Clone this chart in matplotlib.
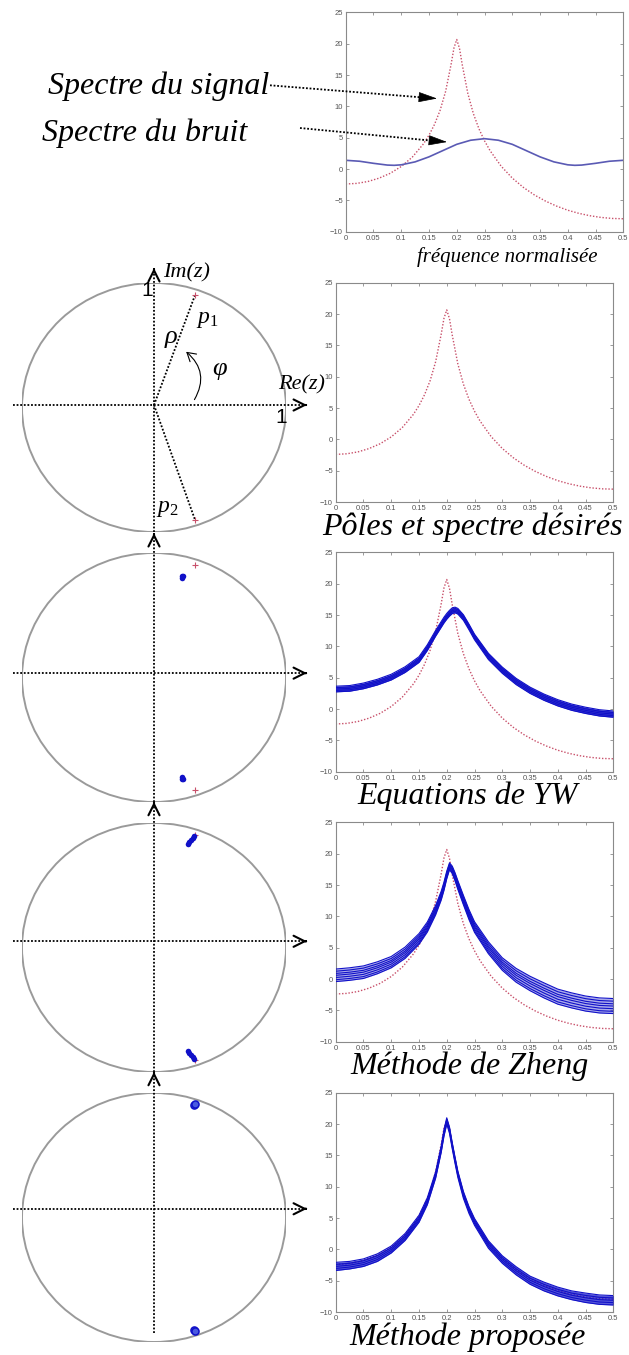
import numpy as np
import matplotlib.pyplot as plt
from matplotlib.patches import Ellipse, FancyArrowPatch

plt.rcParams['mathtext.fontset'] = 'custom'
plt.rcParams['mathtext.it'] = 'Liberation Serif:italic'
plt.rcParams['mathtext.rm'] = 'Liberation Serif'

W, H = 629, 1355

# spectre désiré (AR(2), dB)
SIG_F = [0, 0.02, 0.04, 0.06, 0.08, 0.1, 0.12, 0.14, 0.15, 0.16, 0.17, 0.18,
         0.19, 0.195, 0.2, 0.205, 0.21, 0.22, 0.23, 0.24, 0.25, 0.26, 0.28,
         0.3, 0.32, 0.34, 0.36, 0.38, 0.4, 0.42, 0.44, 0.46, 0.48, 0.5]
SIG_DB = [-2.38, -2.28, -1.98, -1.45, -0.68, 0.41, 1.91, 4.01, 5.40, 7.13,
          9.36, 12.40, 16.78, 19.32, 20.66, 19.23, 16.60, 12.05, 8.83, 6.42,
          4.51, 2.94, 0.46, -1.43, -2.92, -4.13, -5.11, -5.91, -6.56, -7.06,
          -7.44, -7.71, -7.87, -7.92]

# spectre du bruit
NOISE_F = [0, 0.025, 0.05, 0.075, 0.0875, 0.1, 0.125, 0.15, 0.175, 0.2, 0.225,
           0.25, 0.275, 0.3, 0.325, 0.35, 0.375, 0.4, 0.4125, 0.425, 0.45,
           0.475, 0.5]
NOISE_DB = [1.4, 1.25, 0.92, 0.64, 0.6, 0.68, 1.15, 1.95, 2.95, 3.95, 4.6,
            4.85, 4.6, 3.95, 2.95, 1.95, 1.15, 0.68, 0.6, 0.64, 0.92, 1.25, 1.4]

# spectres estimés (centre du faisceau + demi-largeur)
BAND_F = [0, 0.025, 0.05, 0.075, 0.1, 0.125, 0.15, 0.165, 0.18, 0.19, 0.195,
          0.2, 0.205, 0.21, 0.215, 0.22, 0.23, 0.24, 0.25, 0.275, 0.3, 0.325,
          0.35, 0.375, 0.4, 0.425, 0.45, 0.475, 0.5]
YW_MID = [3.2, 3.3, 3.7, 4.3, 5.1, 6.3, 7.9, 9.8, 12.1, 13.5, 14.2, 14.8,
          15.3, 15.7, 15.8, 15.6, 14.6, 13.1, 11.5, 8.4, 6.2, 4.4, 3.0, 1.9,
          1.0, 0.3, -0.2, -0.6, -0.8]
YW_SPREAD = [0.45] * 19 + [0.5] * 10
ZHENG_MID = [0.6, 0.8, 1.1, 1.8, 2.7, 4.2, 6.4, 8.3, 11.0, 13.3, 14.8, 16.6,
             18.0, 17.4, 16.3, 15.0, 12.6, 10.3, 8.3, 5.0, 2.4, 0.6, -0.7,
             -1.8, -2.8, -3.4, -3.9, -4.2, -4.3]
ZHENG_SPREAD = [1.0, 1.0, 1.0, 0.95, 0.9, 0.9, 0.85, 0.8, 0.75, 0.7, 0.65,
                0.6, 0.55, 0.6, 0.65, 0.7, 0.75, 0.8, 0.85, 0.95, 1.0, 1.1,
                1.15, 1.2, 1.2, 1.2, 1.2, 1.2, 1.2]
PROP_MID = [-2.7, -2.5, -2.1, -1.3, 0.0, 2.0, 4.9, 7.7, 11.9, 16.0, 18.6,
            20.5, 19.0, 16.5, 14.2, 12.0, 8.7, 6.3, 4.4, 0.8, -1.6, -3.4,
            -4.9, -5.9, -6.7, -7.3, -7.7, -8.0, -8.1]
PROP_SPREAD = [0.65, 0.6, 0.6, 0.6, 0.55, 0.55, 0.55, 0.55, 0.5, 0.5, 0.5,
               0.5, 0.5, 0.5, 0.5, 0.5, 0.55, 0.55, 0.55, 0.6, 0.6, 0.65,
               0.65, 0.7, 0.7, 0.7, 0.75, 0.75, 0.75]

# pôles (demi-plan supérieur, les conjugués sont tracés en miroir)
DESIRED_RE, DESIRED_IM = 0.31, 0.90
YW_RE = [0.210, 0.222, 0.215]
YW_IM = [0.800, 0.812, 0.818]
ZHENG_RE = [0.255, 0.268, 0.282, 0.296, 0.305]
ZHENG_IM = [0.835, 0.850, 0.866, 0.882, 0.895]
PROP_RE = [0.300, 0.308]
PROP_IM = [0.905, 0.912]

XTICKS = [0, 0.05, 0.1, 0.15, 0.2, 0.25, 0.3, 0.35, 0.4, 0.45, 0.5]
XTICK_LABELS = ['0', '0.05', '0.1', '0.15', '0.2', '0.25', '0.3', '0.35',
                '0.4', '0.45', '0.5']
YTICKS = [-10, -5, 0, 5, 10, 15, 20, 25]

RED = '#c8506a'
BAND_BLUE = '#1010c8'
SERIF_IT = dict(family='Liberation Serif', style='italic')


def box(left, top, width, height):
    return [left / W, 1 - (top + height) / H, width / W, height / H]


fig = plt.figure(figsize=(W / 100, H / 100), dpi=100, facecolor='white')


def spectrum_axes(left, top):
    ax = fig.add_axes(box(left, top, 277.6, 219.5))
    ax.set_xlim(0, 0.5)
    ax.set_ylim(-10, 25)
    ax.set_xticks(XTICKS)
    ax.set_xticklabels(XTICK_LABELS)
    ax.set_yticks(YTICKS)
    ax.tick_params(direction='in', length=2.5, width=0.6, color='#8a8a8a',
                   labelsize=5.5, labelcolor='#555555', pad=2,
                   top=True, right=True)
    for lab in ax.get_xticklabels() + ax.get_yticklabels():
        lab.set_family('Liberation Sans')
    for s in ax.spines.values():
        s.set_color('#8a8a8a')
        s.set_linewidth(0.8)
    return ax


def draw_band(ax, mid, spread, offsets, fill_alpha):
    mid = np.asarray(mid)
    spread = np.asarray(spread)
    ax.fill_between(BAND_F, mid - spread, mid + spread, color=BAND_BLUE,
                    alpha=fill_alpha, lw=0, zorder=3)
    for k in offsets:
        ax.plot(BAND_F, mid + k * spread, color=BAND_BLUE, lw=0.8, zorder=4)


def desired(ax):
    ax.plot(SIG_F, SIG_DB, color=RED, lw=1.0, ls=(0, (1, 1.3)), zorder=2)


# --- spectres ---
ax0 = spectrum_axes(345.7, 12.3)
desired(ax0)
ax0.plot(NOISE_F, NOISE_DB, color='#5a5ab4', lw=1.2)

ax1 = spectrum_axes(335.7, 282.7)
desired(ax1)

ax2 = spectrum_axes(335.7, 552.3)
desired(ax2)
draw_band(ax2, YW_MID, YW_SPREAD, [-1, -0.5, 0, 0.5, 1], 0.85)

ax3 = spectrum_axes(335.7, 822.3)
desired(ax3)
draw_band(ax3, ZHENG_MID, ZHENG_SPREAD, [-1, -0.7, -0.35, 0, 0.3, 0.65, 1], 0.35)

ax4 = spectrum_axes(335.7, 1092.7)
desired(ax4)
draw_band(ax4, PROP_MID, PROP_SPREAD, [-1, -0.5, 0, 0.5, 1], 0.7)

# --- cercles unité ---
CIRCLE_CY = [407.5, 677.5, 947.5, 1217.5]
AXIS_SHIFT = [0.02, 0.035, 0.05, 0.07]
VERT_TOP = [1.12, 1.16, 1.17, 1.17]
VERT_BOTTOM = [-1.0, -1.0, -1.0, -0.93]
DOT = (0, (1, 1))
chevron = dict(arrowstyle='->', lw=1.5, color='k', mutation_scale=20,
               shrinkA=0, shrinkB=0)

circles = []
for i, cy in enumerate(CIRCLE_CY):
    ax = fig.add_axes(box(154 - 132, cy - 124.5, 264, 249))
    ax.set_xlim(-1, 1)
    ax.set_ylim(-1, 1)
    ax.axis('off')
    ax.add_patch(Ellipse((0, 0), 2, 2, fill=False, ec='#9a9a9a', lw=1.4))
    y0 = AXIS_SHIFT[i]
    ax.plot([-1.068, 1.155], [y0, y0], ls=DOT, color='k', lw=1.3, clip_on=False)
    ax.plot([0, 0], [VERT_BOTTOM[i], VERT_TOP[i] - 0.005], ls=DOT, color='k',
            lw=1.3, clip_on=False)
    ax.annotate('', xy=(1.159, y0), xytext=(1.150, y0), arrowprops=chevron,
                annotation_clip=False)
    ax.annotate('', xy=(0, VERT_TOP[i]), xytext=(0, VERT_TOP[i] - 0.01),
                arrowprops=chevron, annotation_clip=False)
    circles.append(ax)

c0, c1, c2, c3 = circles
for ax in (c0, c1, c2):
    ax.plot([DESIRED_RE, DESIRED_RE], [DESIRED_IM, -DESIRED_IM], ls='none',
            marker='+', ms=5, mew=0.8, color=RED, clip_on=False, zorder=3)

c0.plot([0, DESIRED_RE], [AXIS_SHIFT[0], DESIRED_IM], ls=DOT, color='k', lw=1.3)
c0.plot([0, DESIRED_RE], [AXIS_SHIFT[0], -DESIRED_IM], ls=DOT, color='k', lw=1.3)

for ax, re, im in ((c1, YW_RE, YW_IM), (c2, ZHENG_RE, ZHENG_IM)):
    re = np.asarray(re)
    im = np.asarray(im)
    ax.scatter(np.r_[re, re], np.r_[im, -im], s=16, color=BAND_BLUE,
               lw=0, zorder=4, clip_on=False)

pr = np.asarray(PROP_RE)
pi = np.asarray(PROP_IM)
c3.scatter(np.r_[pr, pr], np.r_[pi, -pi], s=26, facecolor='#4a5ae0',
           edgecolor=BAND_BLUE, lw=1.1, zorder=4, clip_on=False)

# --- textes et flèches (coordonnées en pixels) ---
ov = fig.add_axes([0, 0, 1, 1])
ov.set_xlim(0, W)
ov.set_ylim(H, 0)
ov.axis('off')

ov.text(48, 94, 'Spectre du signal', fontsize=23, ha='left', va='baseline', **SERIF_IT)
ov.text(42, 141, 'Spectre du bruit', fontsize=23, ha='left', va='baseline', **SERIF_IT)

head = dict(arrowstyle='-|>,head_length=0.4,head_width=0.11', mutation_scale=30,
            color='k', lw=0.5, shrinkA=0, shrinkB=0)
ov.plot([270, 421], [85.3, 97.3], ls=DOT, color='k', lw=1.3)
ov.annotate('', xy=(437, 98.5), xytext=(420, 97.2), arrowprops=head)
ov.plot([300, 431], [128, 140.6], ls=DOT, color='k', lw=1.3)
ov.annotate('', xy=(447, 142), xytext=(430, 140.4), arrowprops=head)

ov.text(507, 262, 'fréquence normalisée', fontsize=15, ha='center', va='baseline', **SERIF_IT)

ov.text(163, 272.5, 'Im(z)', fontsize=16, ha='left', va='center', **SERIF_IT)
ov.text(302, 385, 'Re(z)', fontsize=16, ha='center', va='center', **SERIF_IT)
ov.text(147.5, 291, '1', fontsize=15, ha='center', va='center', family='Liberation Sans')
ov.text(281.5, 417.5, '1', fontsize=15, ha='center', va='center', family='Liberation Sans')
ov.text(171, 337, 'ρ', fontsize=19, ha='center', va='center', **SERIF_IT)
ov.text(220, 369, 'φ', fontsize=19, ha='center', va='center', **SERIF_IT)
ov.text(207, 318, r'$p_{\mathit{1}}$', fontsize=17, ha='center', va='center')
ov.text(167, 507, r'$p_{\mathit{2}}$', fontsize=17, ha='center', va='center')
ov.add_patch(FancyArrowPatch((193, 402), (184, 350), connectionstyle='arc3,rad=0.45',
                             arrowstyle='->,head_length=0.5,head_width=0.3',
                             mutation_scale=12, lw=0.8, color='k'))

ov.text(472, 535, 'Pôles et spectre désirés', fontsize=23, ha='center', va='baseline', **SERIF_IT)
ov.text(468, 804, 'Equations de YW', fontsize=23, ha='center', va='baseline', **SERIF_IT)
ov.text(470, 1074, 'Méthode de Zheng', fontsize=23, ha='center', va='baseline', **SERIF_IT)
ov.text(468, 1345, 'Méthode proposée', fontsize=23, ha='center', va='baseline', **SERIF_IT)

fig.savefig('out.png', dpi=100, facecolor='white')
